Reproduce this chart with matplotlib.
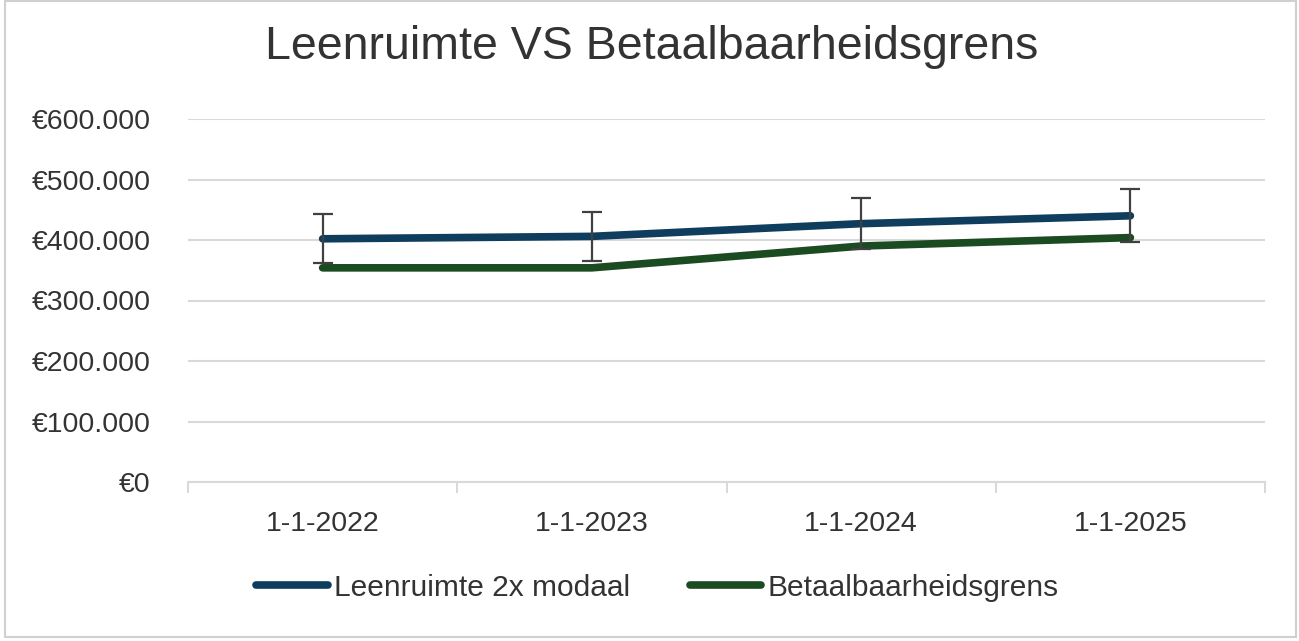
import matplotlib.pyplot as plt
from matplotlib.ticker import FuncFormatter, FixedLocator
from matplotlib.patches import Rectangle

datums = ['1-1-2022', '1-1-2023', '1-1-2024', '1-1-2025']
leenruimte = [402000, 406000, 427000, 440000]
leenruimte_err = [40200, 40600, 42700, 44000]
betaalbaarheid = [354000, 354000, 390000, 404000]

blauw = '#0E3D5E'
groen = '#1B4B21'
grid_kleur = '#D9D9D9'
tekst_kleur = '#333333'

fig = plt.figure(figsize=(12.99, 6.41), dpi=100)
ax = fig.add_axes([188 / 1299, 1 - 482 / 641, 1077 / 1299, 363 / 641])

x = list(range(len(datums)))
ax.plot(x, leenruimte, color=blauw, lw=5.5, solid_capstyle='round', label='Leenruimte 2x modaal', zorder=3)
ax.plot(x, betaalbaarheid, color=groen, lw=5.5, solid_capstyle='round', label='Betaalbaarheidsgrens', zorder=3)
ax.errorbar(x, leenruimte, yerr=leenruimte_err, fmt='none', ecolor='#404040', elinewidth=1.6,
            capsize=7.5, capthick=1.6, zorder=4)

ax.set_xlim(-0.5, len(datums) - 0.5)
ax.set_ylim(0, 600000)
ax.set_yticks(range(0, 600001, 100000))
ax.yaxis.set_major_formatter(FuncFormatter(lambda v, p: '€' + f'{int(v):,}'.replace(',', '.')))
ax.grid(axis='y', color=grid_kleur, lw=1.5)
ax.set_axisbelow(True)

ax.set_xticks(x)
ax.set_xticklabels(datums, family='Liberation Sans', fontsize=20.5, color=tekst_kleur)
ax.xaxis.set_minor_locator(FixedLocator([i - 0.5 for i in range(len(datums) + 1)]))
ax.tick_params(axis='x', which='major', length=0, pad=21)
ax.tick_params(axis='x', which='minor', length=8, width=1.5, color=grid_kleur)
ax.tick_params(axis='y', length=0, pad=27, labelsize=20.5, labelcolor=tekst_kleur)
for lab in ax.get_yticklabels():
    lab.set_family('Liberation Sans')

for s in ['top', 'right', 'left']:
    ax.spines[s].set_visible(False)
ax.spines['bottom'].set_color(grid_kleur)
ax.spines['bottom'].set_linewidth(1.5)

fig.text(0.502, 0.927, 'Leenruimte VS Betaalbaarheidsgrens', ha='center', va='center',
         fontsize=33.5, color=tekst_kleur, family='Liberation Sans')

fig.legend(loc='center', bbox_to_anchor=(0.506, 0.083), ncol=2, frameon=False,
           prop={'family': 'Liberation Sans', 'size': 21.5},
           labelcolor=tekst_kleur, handlelength=2.4, handletextpad=0.2, columnspacing=2.0)

fig.add_artist(Rectangle((5 / 1299, 4 / 641), 1291 / 1299, 636 / 641, transform=fig.transFigure,
                         fill=False, edgecolor='#D0D0D0', lw=1.5))

fig.savefig('out.png', dpi=100)
